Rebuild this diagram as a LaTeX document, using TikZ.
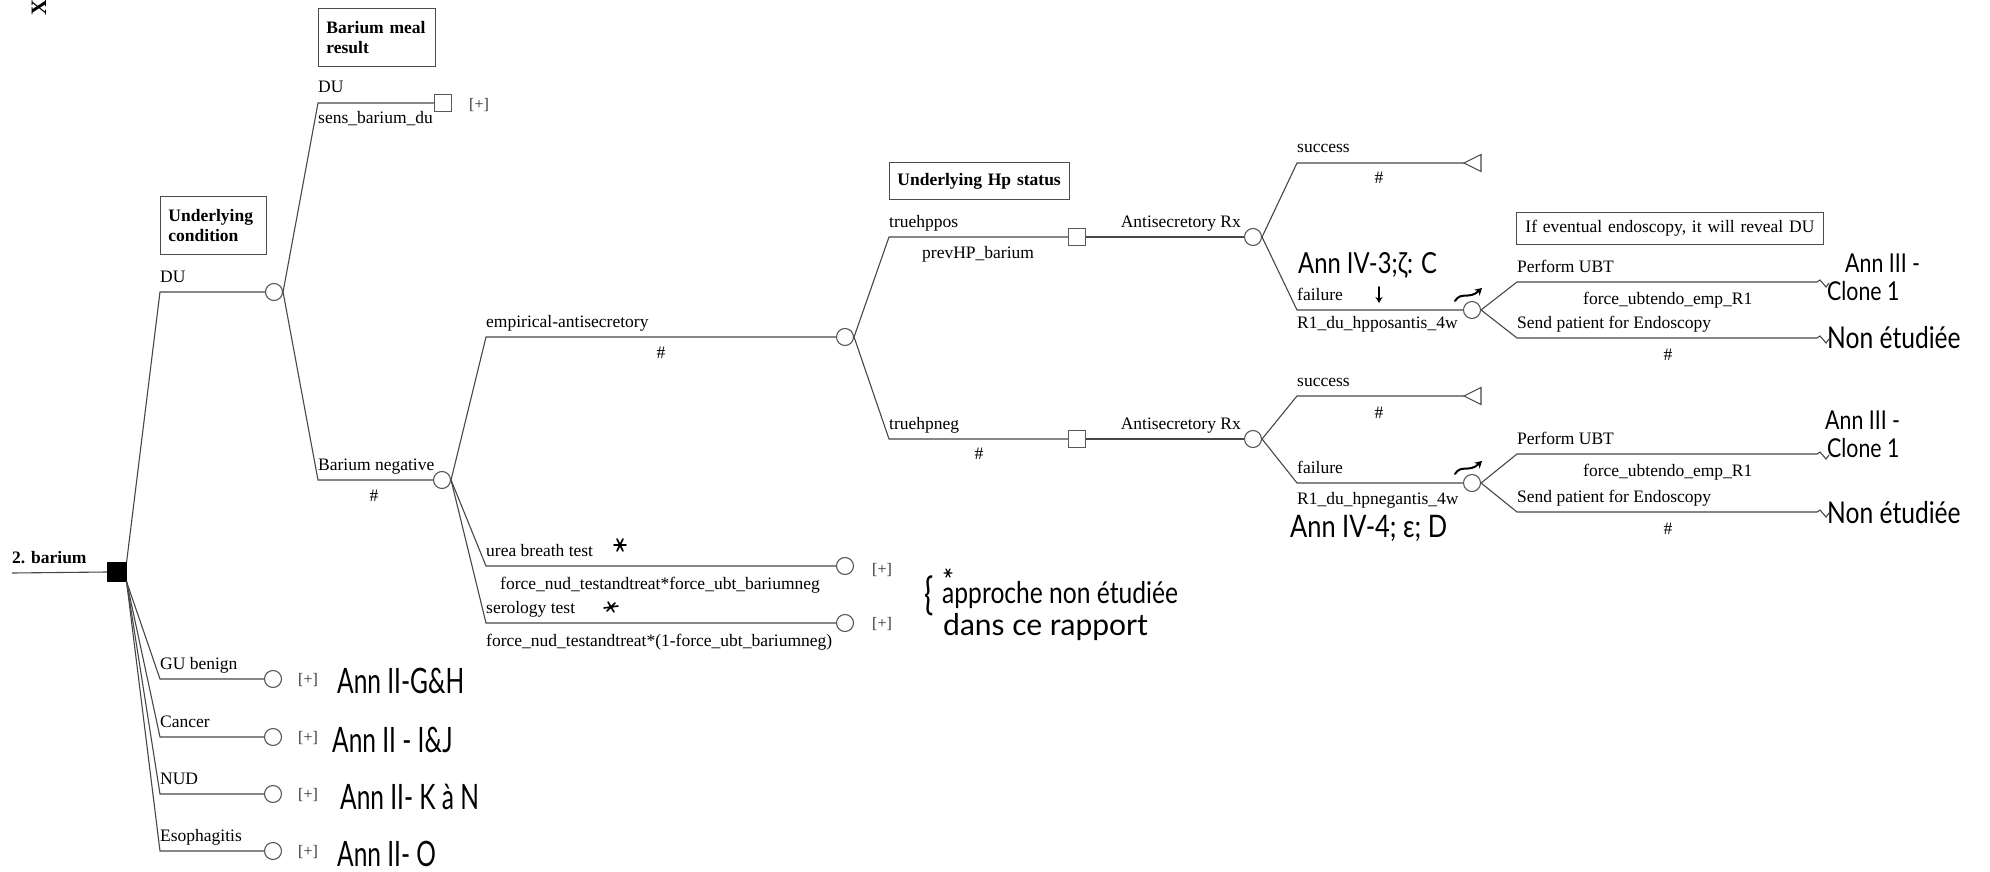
\documentclass[tikz,border=0pt]{standalone}
\usepackage{fontspec}
\setmainfont{Liberation Serif}
\newfontfamily\handfont[FakeStretch=0.82]{Lato}
\newfontfamily\handnarrow[FakeStretch=0.7]{Lato}
\newfontfamily\handwide[FakeStretch=1.0]{Lato}
\usetikzlibrary{arrows.meta}
\newcommand\treefont{\fontsize{17.5}{19.5}\selectfont}
\newcommand\plusfont{\fontsize{16}{18}\selectfont}
\begin{document}
\begin{tikzpicture}[x=1pt,y=-1pt,
  br/.style={draw=black!72, line width=1.1pt},
  chance/.style={circle, draw=black!65, fill=white, line width=1.1pt, minimum size=17pt, inner sep=0pt},
  decis/.style={rectangle, draw=black!65, fill=white, line width=1.1pt, minimum size=17pt, inner sep=0pt},
  lab/.style={anchor=base west, inner sep=0pt, font=\treefont},
  labr/.style={anchor=base east, inner sep=0pt, font=\treefont},
  hsh/.style={anchor=base, inner sep=0pt, font=\treefont},
  plus/.style={anchor=west, inner sep=0pt, font=\plusfont, text=black!80},
  note/.style={draw=black!70, line width=0.9pt, anchor=north west, align=left,
    font=\treefont\bfseries, inner xsep=8pt, inner ysep=0pt},
  hw/.style={anchor=base west, inner sep=0pt, font={\handfont\fontsize{#1}{#1}\selectfont}},
  hw/.default=30,
  hwn/.style={anchor=base west, inner sep=0pt, font={\handnarrow\fontsize{#1}{#1}\selectfont}},
  hww/.style={anchor=base west, inner sep=0pt, font={\handwide\fontsize{#1}{#1}\selectfont}},
  ink/.style={line width=1.6pt, line cap=round, line join=round},
]
\useasboundingbox (0,0) rectangle (1990,872);

% corner mark
\node[rotate=90, inner sep=0pt, font=\fontsize{22}{22}\selectfont\bfseries] (xmark) at (39,8) {X};

% ---------- tree nodes ----------
\node[decis, fill=black, draw=black, minimum size=18pt] (root) at (117,572) {};
\coordinate (rootin) at (12,573);
\node[chance] (cond) at (274,292) {};
\node[decis] (sdu) at (443,103) {};
\node[chance] (bneg) at (442,480) {};
\node[chance] (emp) at (845,337) {};
\node[chance] (ubt) at (845,566) {};
\node[chance] (sero) at (845,623) {};
\node[decis] (hppos) at (1077,237) {};
\node[decis] (hpneg) at (1077,439) {};
\node[chance] (rxpos) at (1253,237) {};
\node[chance] (rxneg) at (1253,439) {};
\node[chance] (fpos) at (1472,310) {};
\node[chance] (fneg) at (1472,483) {};
\node[chance] (gu) at (273,679) {};
\node[chance] (can) at (273,737) {};
\node[chance] (nud) at (273,794) {};
\node[chance] (eso) at (273,851) {};

% bend points of the branches
\coordinate (kdu) at (160,292);
\coordinate (kgu) at (160,679);
\coordinate (kcan) at (160,737);
\coordinate (knud) at (160,794);
\coordinate (keso) at (160,851);
\coordinate (kbdu) at (318,103);
\coordinate (kbneg) at (318,480);
\coordinate (kemp) at (486,337);
\coordinate (kubt) at (486,566);
\coordinate (ksero) at (486,623);
\coordinate (khppos) at (889,237);
\coordinate (khpneg) at (889,439);
\coordinate (kspos) at (1297,163);
\coordinate (kfpos) at (1297,310);
\coordinate (ksneg) at (1297,396);
\coordinate (kfneg) at (1297,483);
\coordinate (kup) at (1517,282);
\coordinate (kep) at (1517,338);
\coordinate (kun) at (1517,454);
\coordinate (ken) at (1517,512);
% free ends
\coordinate (tpos) at (1464,163);
\coordinate (tneg) at (1464,396);
\coordinate (eup) at (1817,282);
\coordinate (eep) at (1817,338);
\coordinate (eun) at (1817,454);
\coordinate (een) at (1817,512);

% ---------- connectors ----------
\draw[br] (rootin) -- (root.west);
\draw[br] (root.north east) -- (kdu) -- (cond.west);
\draw[br] (root.south east) -- (kgu) -- (gu.west);
\draw[br] (root.south east) -- (kcan) -- (can.west);
\draw[br] (root.south east) -- (knud) -- (nud.west);
\draw[br] (root.south east) -- (keso) -- (eso.west);
\draw[br] (cond.east) -- (kbdu) -- (sdu.west);
\draw[br] (cond.east) -- (kbneg) -- (bneg.west);
\draw[br] (bneg.east) -- (kemp) -- (emp.west);
\draw[br] (bneg.east) -- (kubt) -- (ubt.west);
\draw[br] (bneg.east) -- (ksero) -- (sero.west);
\draw[br] (emp.east) -- (khppos) -- (hppos.west);
\draw[br] (emp.east) -- (khpneg) -- (hpneg.west);
\draw[br] (hppos.east) -- (rxpos.west);
\draw[br] (hpneg.east) -- (rxneg.west);
\draw[br] (rxpos.east) -- (kspos) -- (tpos);
\draw[br] (rxpos.east) -- (kfpos) -- (fpos.west);
\draw[br] (rxneg.east) -- (ksneg) -- (tneg);
\draw[br] (rxneg.east) -- (kfneg) -- (fneg.west);
\draw[br] (fpos.east) -- (kup) -- (eup) -- ++(3,-2) -- ++(6,7) -- ++(3,-4);
\draw[br] (fpos.east) -- (kep) -- (eep) -- ++(3,-2) -- ++(6,7) -- ++(3,-4);
\draw[br] (fneg.east) -- (kun) -- (eun) -- ++(3,-2) -- ++(6,7) -- ++(3,-4);
\draw[br] (fneg.east) -- (ken) -- (een) -- ++(3,-2) -- ++(6,7) -- ++(3,-4);
% terminal triangles
\draw[br, fill=white] (tpos) -- ++(17,-8.5) -- ++(0,17) -- cycle;
\draw[br, fill=white] (tneg) -- ++(17,-8.5) -- ++(0,17) -- cycle;

% ---------- boxed headings ----------
\node[note, text width=101pt, minimum height=58pt] (hbar) at (318,8) {Barium meal\\result};
\node[note, text width=90pt, minimum height=58pt] (hcond) at (160,196) {Underlying\\condition};
\node[note, text width=164pt, minimum height=37pt] (hhp) at (889,162) {Underlying Hp status};
\node[note, font=\treefont, text width=289pt, inner xsep=9pt, minimum height=32pt] (hendo) at (1516,212)
  {If eventual endoscopy, it will reveal DU};

% ---------- branch labels ----------
\node[lab, font=\treefont\bfseries] (l0) at (12,563) {2. barium};
\node[lab] (l1) at (160,282) {DU};
\node[lab] (l2) at (318,93) {DU};
\node[lab] (l3) at (318,124) {sens\_barium\_du};
\node[plus] (p1) at (469,105) {[+]};
\node[lab] (l4) at (318,470) {Barium negative};
\node[hsh] (l5) at (374,501) {\#};
\node[lab] (l6) at (486,327) {empirical-antisecretory};
\node[hsh] (l7) at (661,358) {\#};
\node[lab] (l8) at (486,556) {urea breath test};
\node[lab] (l9) at (500,589) {force\_nud\_testandtreat*force\_ubt\_bariumneg};
\node[plus] (p2) at (872,570) {[+]};
\node[lab] (l10) at (486,613) {serology test};
\node[lab] (l11) at (486,646) {force\_nud\_testandtreat*(1-force\_ubt\_bariumneg)};
\node[plus] (p3) at (872,624) {[+]};
\node[lab] (l12) at (889,227) {truehppos};
\node[lab] (l13) at (922,258) {prevHP\_barium};
\node[lab] (l14) at (889,429) {truehpneg};
\node[hsh] (l15) at (979,459) {\#};
\node[labr] (l16) at (1241,227) {Antisecretory Rx};
\node[labr] (l17) at (1241,429) {Antisecretory Rx};
\node[lab] (l18) at (1297,153) {success};
\node[hsh] (l19) at (1379,184) {\#};
\node[lab] (l20) at (1297,300) {failure};
\node[lab] (l21) at (1297,328) {R1\_du\_hpposantis\_4w};
\node[lab] (l22) at (1297,386) {success};
\node[hsh] (l23) at (1379,418) {\#};
\node[lab] (l24) at (1297,473) {failure};
\node[lab] (l25) at (1297,504) {R1\_du\_hpnegantis\_4w};
\node[lab] (l26) at (1517,272) {Perform UBT};
\node[lab] (l27) at (1583,304) {force\_ubtendo\_emp\_R1};
\node[lab] (l28) at (1517,328) {Send patient for Endoscopy};
\node[hsh] (l29) at (1668,360) {\#};
\node[lab] (l30) at (1517,444) {Perform UBT};
\node[lab] (l31) at (1583,476) {force\_ubtendo\_emp\_R1};
\node[lab] (l32) at (1517,502) {Send patient for Endoscopy};
\node[hsh] (l33) at (1668,534) {\#};
\node[lab] (l34) at (160,669) {GU benign};
\node[lab] (l35) at (160,727) {Cancer};
\node[lab] (l36) at (160,784) {NUD};
\node[lab] (l37) at (160,841) {Esophagitis};
\node[plus] (p4) at (298,680) {[+]};
\node[plus] (p5) at (298,738) {[+]};
\node[plus] (p6) at (298,795) {[+]};
\node[plus] (p7) at (298,852) {[+]};

% ---------- handwritten notes ----------
\node[hwn=35] (n1) at (337,693) {Ann II-G\&H};
\node[hwn=35] (n2) at (332,752) {Ann II - I\&J};
\node[hwn=35] (n3) at (340,809) {Ann II- K à N};
\node[hwn=35] (n4) at (337,866) {Ann II- O};
\node[hw=29] (n5) at (1298,273) {Ann IV-3;ζ: C};
\node[hw=31] (n6) at (1290,537) {Ann IV-4; ε; D};
\node[hw=26] (n7) at (1845,272) {Ann III -};
\node[hw=26] (n8) at (1827,300) {Clone 1};
\node[hw=30] (n9) at (1827,348) {Non étudiée};
\node[hw=26] (n10) at (1825,429) {Ann III -};
\node[hw=26] (n11) at (1827,457) {Clone 1};
\node[hw=30] (n12) at (1827,523) {Non étudiée};
\node[hw=30] (n13) at (942,603) {approche non étudiée};
\node[hww=30] (n14) at (943,635) {dans ce rapport};
\node[anchor=center, inner sep=0pt, font={\handnarrow\fontsize{44}{44}\selectfont}] (n15) at (929,596) {\{};

% asterisks
\draw[ink] (620,545) +(-6,0) -- +(6,0) +(-3,-6) -- +(3,6) +(3,-6) -- +(-3,6);
\draw[ink] (611,607) +(-7,1) -- +(7,-1) +(-3,-5) -- +(3,5) +(4,-4) -- +(-4,4);
\draw[ink, line width=1.3pt] (948,573) +(-4,0) -- +(4,0) +(-2,-4) -- +(2,4) +(2,-4) -- +(-2,4);

% arrows
\draw[ink, -{Stealth[length=6pt,width=7pt]}] (1379,287) -- (1379,303);
\draw[ink, line width=2pt, -{Stealth[length=7pt,width=8pt]}] (1455,301) .. controls (1461,291) and (1469,300) .. (1482,288);
\draw[ink, line width=2pt, -{Stealth[length=7pt,width=8pt]}] (1455,474) .. controls (1461,464) and (1469,473) .. (1482,461);
\end{tikzpicture}
\end{document}
